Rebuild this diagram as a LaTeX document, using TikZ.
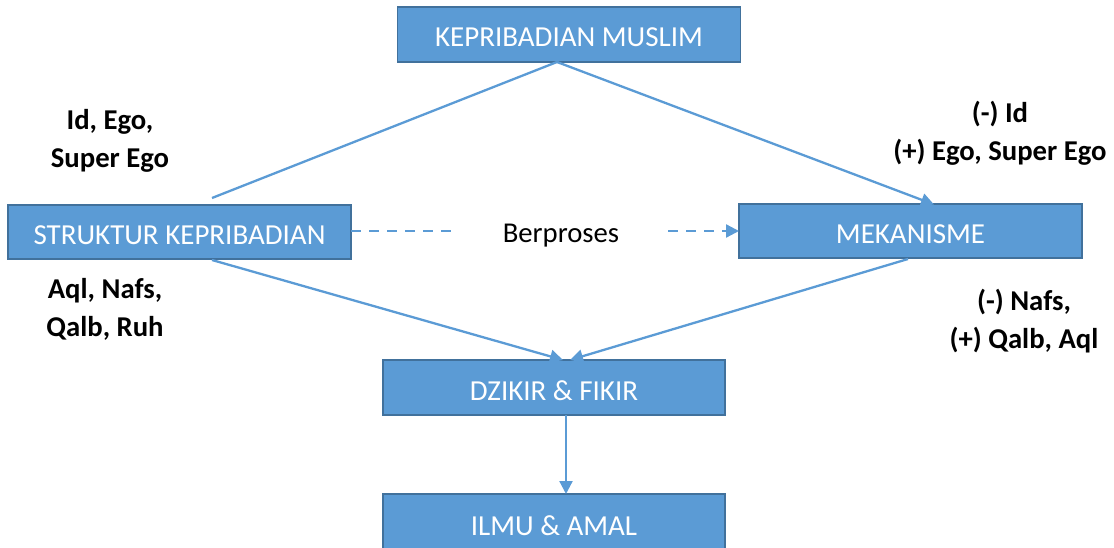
\documentclass[tikz,border=0pt]{standalone}
\usepackage{fontspec}
\setmainfont{Carlito}
\usetikzlibrary{arrows.meta}
\definecolor{boxfill}{HTML}{5B9BD5}
\definecolor{boxline}{HTML}{41719C}
\definecolor{conn}{HTML}{5B9BD5}
\newcommand{\lowtext}[1]{\raisebox{-3pt}[\height][\depth]{#1}}
\tikzset{
  blockbox/.style={draw=boxline, line width=1.8pt, fill=boxfill, text=white,
    font=\fontsize{29}{32}\selectfont, outer sep=0pt, inner sep=0pt, minimum height=55pt},
  conline/.style={draw=conn, line width=2.3pt},
  conarrow/.style={conline, -{Triangle[length=13pt,width=13pt]}},
  sidelabel/.style={font=\fontsize{28.7}{38}\selectfont\bfseries, align=center, inner sep=0pt},
}
\begin{document}
\begin{tikzpicture}[x=1pt,y=-1pt]
\useasboundingbox (0,0) rectangle (1114,548);
\node[blockbox, minimum width=343pt] (muslim) at (569,34.5) {\lowtext{KEPRIBADIAN MUSLIM}};
\node[blockbox, minimum width=343pt, minimum height=54pt] (struktur) at (179.5,232) {\lowtext{STRUKTUR KEPRIBADIAN}};
\node[blockbox, minimum width=343pt, minimum height=54pt] (mekanisme) at (910.5,231) {\lowtext{MEKANISME}};
\node[blockbox, minimum width=342pt] (dzikir) at (554,387.5) {\lowtext{DZIKIR \& FIKIR}};
\node[blockbox, minimum width=342pt, minimum height=58pt] (ilmu) at (554,523) {\lowtext{ILMU \& AMAL}};

\coordinate (apex) at (557,62);
\coordinate (lefttop) at (212,198);
\coordinate (righttop) at (934,204.5);
\coordinate (leftbot) at (212,260);
\coordinate (rightbot) at (908,259);
\coordinate (dzl) at (563,360);
\coordinate (dzr) at (570,360);
\coordinate (dzb) at (566,415);
\coordinate (ilt) at (566,494);

\draw[conline] (apex) -- (lefttop);
\draw[conarrow] (apex) -- (righttop);
\draw[conarrow] (leftbot) -- (dzl);
\draw[conarrow] (rightbot) -- (dzr);
\draw[conarrow] (dzb) -- (ilt);

\node[font=\fontsize{28.7}{32}\selectfont, inner sep=0pt] (berproses) at (561,236) {Berproses};
\coordinate (dashA) at (455,231);
\coordinate (dashB) at (668,231);
\draw[conline, dash pattern=on 10pt off 8pt] (struktur.east |- 0,231) -- (dashA);
\draw[conarrow, dash pattern=on 10pt off 8pt] (dashB) -- (mekanisme.west |- 0,231);

\node[sidelabel] (l1) at (110,141) {Id, Ego,\\Super Ego};
\node[sidelabel] (l2) at (105,309) {Aql, Nafs,\\Qalb, Ruh};
\node[sidelabel] (l3) at (1000,133) {(-) Id\\(+) Ego, Super Ego};
\node[sidelabel] (l4) at (1024,321) {(-) Nafs,\\(+) Qalb, Aql};
\end{tikzpicture}
\end{document}
